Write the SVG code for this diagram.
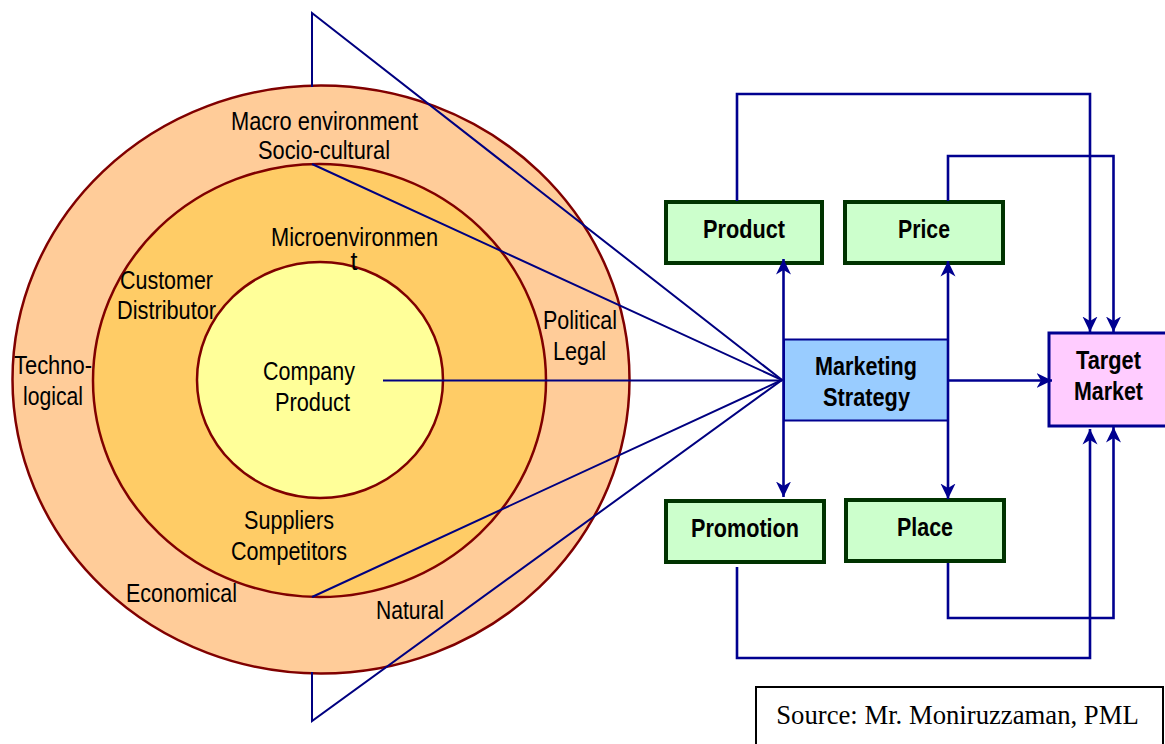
<svg xmlns="http://www.w3.org/2000/svg" width="1165" height="744" viewBox="0 0 1165 744">
<style>
text{font-family:"Liberation Sans",Arial,sans-serif;text-anchor:middle;fill:#000;font-size:25px}
.b{font-weight:bold}
.c{stroke:#800000;stroke-width:2.500}
.g{fill:#ccffcc;stroke:#003300;stroke-width:4}
.w{fill:none;stroke:#000080;stroke-width:2}
.t{fill:none;stroke:#000090;stroke-width:2.600}
</style>
<defs>
<marker id="a" markerUnits="userSpaceOnUse" markerWidth="17" markerHeight="17" refX="15.500" refY="8.500" orient="auto-start-reverse"><path d="M0 1L15.500 8.500L0 16L4.500 8.500Z" fill="#000090"/></marker>
</defs>
<rect width="1165" height="744" fill="#fff"/>
<g id="outer-circle"><ellipse cx="321" cy="379.500" rx="308.500" ry="294" class="c" fill="#ffcc99"/></g>
<g id="middle-circle"><ellipse cx="319.500" cy="380.500" rx="226.500" ry="216.500" class="c" fill="#ffcc66"/></g>
<g id="inner-circle"><ellipse cx="320" cy="380" rx="123" ry="118" class="c" fill="#ffff99"/></g>
<g id="product"><rect class="g" x="666" y="202" width="156" height="61"/><text class="b" x="744" y="238" textLength="82" lengthAdjust="spacingAndGlyphs">Product</text></g>
<g id="price"><rect class="g" x="845" y="202" width="158" height="61"/><text class="b" x="924" y="238" textLength="52" lengthAdjust="spacingAndGlyphs">Price</text></g>
<g id="promotion"><rect class="g" x="666" y="501" width="158" height="61"/><text class="b" x="745" y="537" textLength="108" lengthAdjust="spacingAndGlyphs">Promotion</text></g>
<g id="place"><rect class="g" x="846" y="500" width="158" height="61"/><text class="b" x="925" y="536" textLength="56" lengthAdjust="spacingAndGlyphs">Place</text></g>
<g id="marketing-strategy"><rect x="784" y="339.500" width="164" height="81" fill="#99ccff" stroke="#000090" stroke-width="2"/><text class="b" x="866" y="375" textLength="102" lengthAdjust="spacingAndGlyphs">Marketing</text><text class="b" x="866.500" y="406" textLength="87" lengthAdjust="spacingAndGlyphs">Strategy</text></g>
<g id="target-market"><rect x="1049" y="333" width="118" height="93" fill="#ffccff" stroke="#000090" stroke-width="3"/><text class="b" x="1108.500" y="369" textLength="65" lengthAdjust="spacingAndGlyphs">Target</text><text class="b" x="1108.500" y="400" textLength="69" lengthAdjust="spacingAndGlyphs">Market</text></g>
<g id="connectors">
<path class="w" d="M312 87V13L782 380L312 721V672"/>
<path class="w" d="M312 164L782 380L312 597"/>
<path class="w" d="M383 380.500H782"/>
<path class="t" marker-start="url(#a)" marker-end="url(#a)" d="M783.500 259V497"/>
<path class="t" marker-start="url(#a)" marker-end="url(#a)" d="M948 261V499"/>
<path class="t" marker-end="url(#a)" d="M949 380.500H1052"/>
<path class="t" marker-end="url(#a)" d="M737 201V94H1090V332"/>
<path class="t" marker-end="url(#a)" d="M948 201V156H1113.500V332"/>
<path class="t" marker-end="url(#a)" d="M737 567V658H1090V429"/>
<path class="t" marker-end="url(#a)" d="M948 563V618H1113.500V427"/>
</g>
<g id="label-macro"><text x="324.500" y="129.500" textLength="187" lengthAdjust="spacingAndGlyphs">Macro environment</text><text x="324" y="158.500" textLength="132" lengthAdjust="spacingAndGlyphs">Socio-cultural</text></g>
<g id="label-micro"><text x="354.500" y="245.500" textLength="167" lengthAdjust="spacingAndGlyphs">Microenvironmen</text><text x="354" y="270">t</text></g>
<g id="label-customer"><text x="166.500" y="288.500" textLength="93" lengthAdjust="spacingAndGlyphs">Customer</text><text x="166.500" y="318.500" textLength="99" lengthAdjust="spacingAndGlyphs">Distributor</text></g>
<g id="label-political"><text x="580" y="328.500" textLength="74" lengthAdjust="spacingAndGlyphs">Political</text><text x="579.500" y="359.500" textLength="53" lengthAdjust="spacingAndGlyphs">Legal</text></g>
<g id="label-techno"><text x="53" y="373.500" textLength="78" lengthAdjust="spacingAndGlyphs">Techno-</text><text x="53" y="404.500" textLength="60" lengthAdjust="spacingAndGlyphs">logical</text></g>
<g id="label-company"><text x="309" y="379.500" textLength="92" lengthAdjust="spacingAndGlyphs">Company</text><text x="312.500" y="410.500" textLength="75" lengthAdjust="spacingAndGlyphs">Product</text></g>
<g id="label-suppliers"><text x="289" y="528.500" textLength="90" lengthAdjust="spacingAndGlyphs">Suppliers</text><text x="289" y="559.500" textLength="116" lengthAdjust="spacingAndGlyphs">Competitors</text></g>
<g id="label-economical"><text x="181.500" y="601.500" textLength="111" lengthAdjust="spacingAndGlyphs">Economical</text></g>
<g id="label-natural"><text x="410" y="618.500" textLength="68" lengthAdjust="spacingAndGlyphs">Natural</text></g>
<g id="source"><rect x="756" y="687" width="407" height="60" fill="#fff" stroke="#000" stroke-width="2"/><text x="957.500" y="724" style="font-family:'Liberation Serif',serif;font-size:26.700px">Source: Mr. Moniruzzaman, PML</text></g>
</svg>
